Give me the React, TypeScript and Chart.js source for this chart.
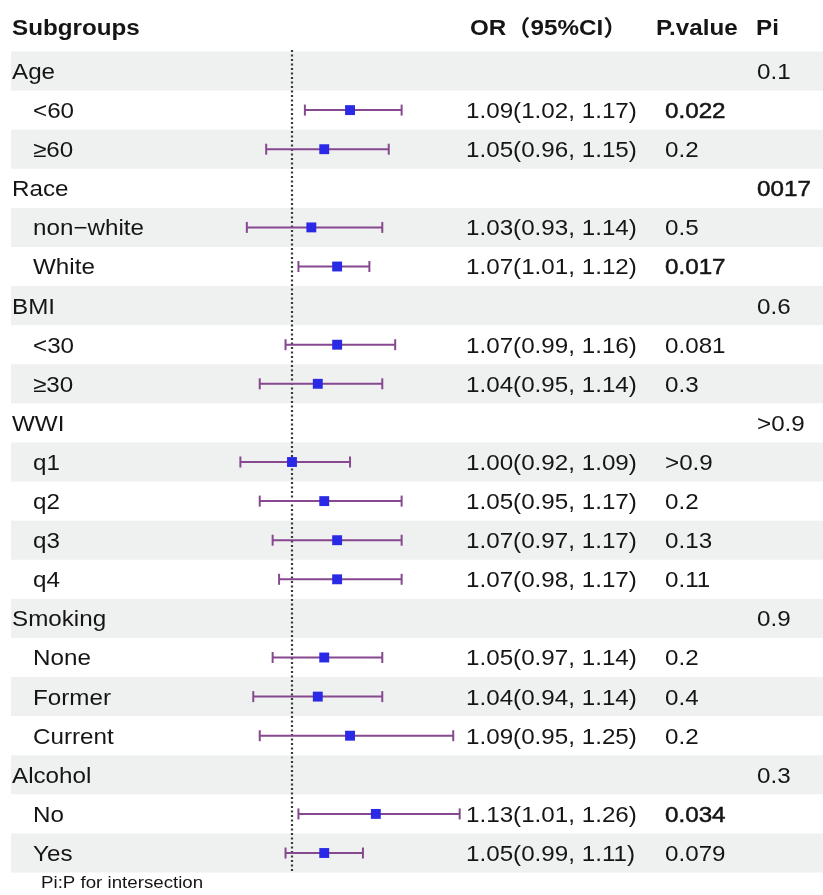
import React, { useEffect, useRef } from "react";
import { Chart, registerables } from "chart.js";

Chart.register(...registerables);

// ---- data ----
const rowLabels = [
  "Age", "<60", "≥60",
  "Race", "non−white", "White",
  "BMI", "<30", "≥30",
  "WWI", "q1", "q2", "q3", "q4",
  "Smoking", "None", "Former", "Current",
  "Alcohol", "No", "Yes",
];
const isGroupRow = [
  true, false, false,
  true, false, false,
  true, false, false,
  true, false, false, false, false,
  true, false, false, false,
  true, false, false,
];
const orValues: (number | null)[] = [
  null, 1.09, 1.05,
  null, 1.03, 1.07,
  null, 1.07, 1.04,
  null, 1.0, 1.05, 1.07, 1.07,
  null, 1.05, 1.04, 1.09,
  null, 1.13, 1.05,
];
const ciLower: (number | null)[] = [
  null, 1.02, 0.96,
  null, 0.93, 1.01,
  null, 0.99, 0.95,
  null, 0.92, 0.95, 0.97, 0.98,
  null, 0.97, 0.94, 0.95,
  null, 1.01, 0.99,
];
const ciUpper: (number | null)[] = [
  null, 1.17, 1.15,
  null, 1.14, 1.12,
  null, 1.16, 1.14,
  null, 1.09, 1.17, 1.17, 1.17,
  null, 1.14, 1.14, 1.25,
  null, 1.26, 1.11,
];
const pValues = [
  "", "0.022", "0.2",
  "", "0.5", "0.017",
  "", "0.081", "0.3",
  "", ">0.9", "0.2", "0.13", "0.11",
  "", "0.2", "0.4", "0.2",
  "", "0.034", "0.079",
];
const piValues = [
  "0.1", "", "",
  "0017", "", "",
  "0.6", "", "",
  ">0.9", "", "", "", "",
  "0.9", "", "", "",
  "0.3", "", "",
];
const boldValues = ["0.022", "0.017", "0.034", "0017"];
const headerLabels = ["Subgroups", "OR（95%CI）", "P.value", "Pi"];
const footnote = "Pi:P for intersection";
const referenceValue = 1;

// ---- styles ----
const FONT_STACK = "'Liberation Sans', Arial, 'Noto Sans CJK SC', sans-serif";
const TEXT_COLOR = "#151515";
const SHADE = "#EFF1F0";
const CI_COLOR = "#86488F";
const POINT_COLOR = "#2A2AE6";
const STRETCH = 1.1;

function fmtOR(i: number) {
  return `${(orValues[i] as number).toFixed(2)}(${(ciLower[i] as number).toFixed(2)}, ${(ciUpper[i] as number).toFixed(2)})`;
}

const tablePlugin = {
  id: "forestTable",
  beforeDatasetsDraw(chart: any) {
    const ctx = chart.ctx as CanvasRenderingContext2D;
    const y = chart.scales.y;
    const rowH = Math.abs(y.getPixelForValue(1) - y.getPixelForValue(0));
    ctx.save();
    ctx.fillStyle = "#ffffff";
    ctx.fillRect(0, 0, chart.width, chart.height);
    ctx.fillStyle = SHADE;
    rowLabels.forEach((_, i) => {
      if (i % 2 === 0) {
        const yc = y.getPixelForValue(i);
        ctx.fillRect(11, yc - rowH / 2, chart.width - 11, rowH);
      }
    });
    ctx.restore();
  },
  afterDatasetsDraw(chart: any) {
    const ctx = chart.ctx as CanvasRenderingContext2D;
    const y = chart.scales.y;
    const fs = 22;
    const draw = (t: string, x: number, yc: number, weight: string, size: number, fake = false) => {
      if (!t) return;
      ctx.save();
      ctx.font = `${weight} ${size}px ${FONT_STACK}`;
      ctx.fillStyle = TEXT_COLOR;
      ctx.textBaseline = "alphabetic";
      ctx.translate(x, yc + 0.36 * size);
      ctx.scale(STRETCH, 1);
      ctx.fillText(t, 0, 0);
      if (fake) {
        ctx.strokeStyle = TEXT_COLOR;
        ctx.lineWidth = 0.5;
        ctx.strokeText(t, 0, 0);
      }
      ctx.restore();
    };
    // header
    const hy = y.getPixelForValue(-1.13);
    draw(headerLabels[0], 12, hy, "bold", fs);
    draw(headerLabels[1], 470, hy, "bold", fs);
    draw(headerLabels[2], 656, hy, "bold", fs);
    draw(headerLabels[3], 756, hy, "bold", fs);
    rowLabels.forEach((lab, i) => {
      const yc = y.getPixelForValue(i);
      draw(lab, isGroupRow[i] ? 12 : 33, yc, "normal", fs);
      if (orValues[i] != null) draw(fmtOR(i), 466, yc, "normal", fs);
      draw(pValues[i], 665, yc, "normal", fs, boldValues.includes(pValues[i]));
      draw(piValues[i], 757, yc, "normal", fs, boldValues.includes(piValues[i]));
    });
    draw(footnote, 41, y.getPixelForValue(20.75), "normal", 17);
  },
};

export default function App() {
  const ref = useRef<HTMLCanvasElement>(null);
  useEffect(() => {
    if (!ref.current) return;
    const lineData: any[] = [];
    const capData: any[] = [];
    const pointData: any[] = [];
    orValues.forEach((v, i) => {
      if (v == null) return;
      lineData.push({ x: ciLower[i], y: i }, { x: ciUpper[i], y: i }, { x: null, y: null });
      capData.push({ x: ciLower[i], y: i }, { x: ciUpper[i], y: i });
      pointData.push({ x: v, y: i });
    });
    const chart = new Chart(ref.current, {
      type: "scatter",
      data: {
        datasets: [
          {
            data: pointData,
            pointStyle: "rect",
            pointRadius: 7,
            backgroundColor: POINT_COLOR,
            borderColor: POINT_COLOR,
            borderWidth: 0,
          } as any,
          {
            data: capData,
            pointStyle: "line",
            rotation: 90,
            pointRadius: 5.5,
            borderColor: CI_COLOR,
            borderWidth: 2,
          } as any,
          {
            data: lineData,
            showLine: true,
            spanGaps: false,
            pointRadius: 0,
            borderColor: CI_COLOR,
            borderWidth: 2,
          } as any,
          {
            data: [
              { x: referenceValue, y: -0.54 },
              { x: referenceValue, y: 20.5 },
            ],
            showLine: true,
            pointRadius: 0,
            borderColor: "#3a3a3a",
            borderWidth: 2.2,
            borderDash: [2, 2.5],
          } as any,
        ],
      },
      options: {
        animation: false,
        responsive: false,
        devicePixelRatio: 1,
        layout: { padding: 0, autoPadding: false },
        plugins: { legend: { display: false }, tooltip: { enabled: false } },
        events: [],
        scales: {
          x: { type: "linear", min: 0.5473, max: 1.8233, display: false },
          y: { type: "linear", min: -1.816, max: 21.074, reverse: true, display: false },
        },
      },
      plugins: [tablePlugin],
    });
    return () => chart.destroy();
  }, []);
  return (
    <div style={{ position: "fixed", left: 0, top: 0, width: 823, height: 895, background: "#fff" }}>
      <canvas ref={ref} width={823} height={895} style={{ display: "block" }} />
    </div>
  );
}
